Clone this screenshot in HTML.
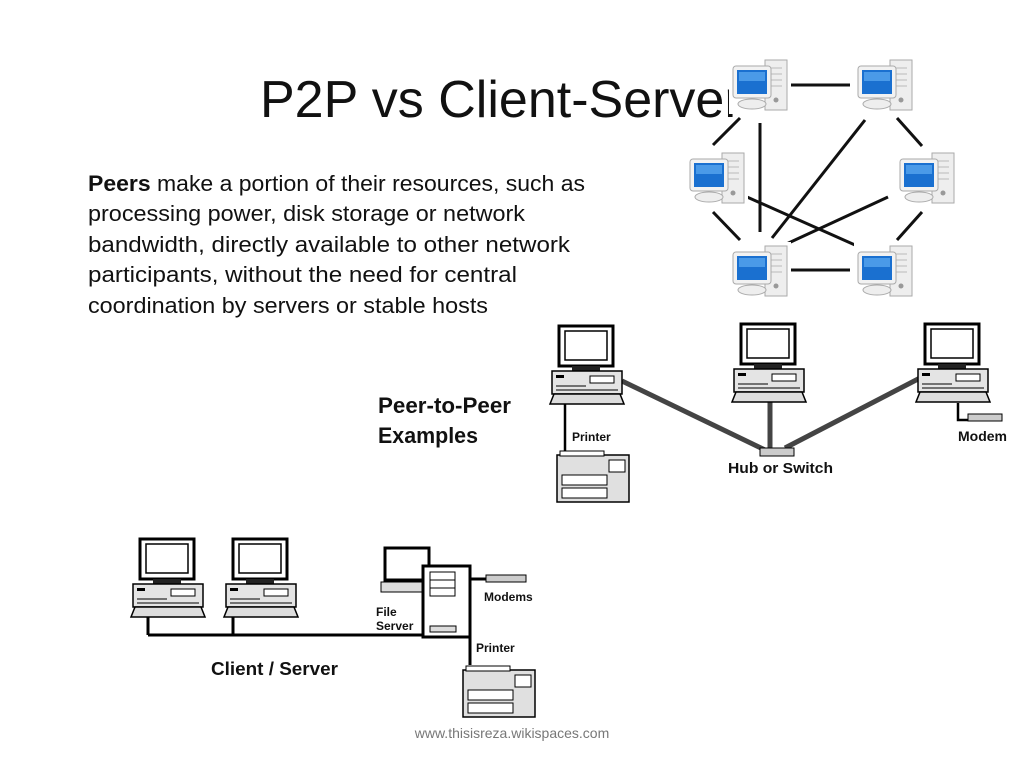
<!DOCTYPE html>
<html><head><meta charset="utf-8"><style>
body{margin:0;background:#fff;}
svg{display:block;}
</style></head><body>
<svg width="1024" height="768" viewBox="0 0 1024 768" xmlns="http://www.w3.org/2000/svg">
<defs>
<g id="pc">
 <rect x="9" y="0" width="54" height="40" fill="#fff" stroke="#000" stroke-width="3"/>
 <rect x="15" y="5" width="42" height="29" fill="#fff" stroke="#000" stroke-width="1.5"/>
 <rect x="22" y="40" width="28" height="5" fill="#222"/>
 <rect x="2" y="45" width="70" height="23" fill="#e4e4e4" stroke="#000" stroke-width="1.5"/>
 <rect x="40" y="50" width="24" height="7" fill="#fff" stroke="#000"/>
 <rect x="6" y="49" width="8" height="3" fill="#000"/>
 <line x1="6" y1="60" x2="36" y2="60" stroke="#000"/>
 <line x1="6" y1="64" x2="68" y2="64" stroke="#000"/>
 <polygon points="4,68 70,68 74,78 0,78" fill="#ddd" stroke="#000" stroke-width="1.5"/>
</g>
<g id="bpc">
 <rect x="-4" y="-6" width="62" height="58" fill="#fff"/>
 <rect x="32" y="-2" width="22" height="50" fill="#eee" stroke="#aaa"/>
 <line x1="37" y1="6" x2="49" y2="6" stroke="#bbb"/><line x1="37" y1="12" x2="49" y2="12" stroke="#bbb"/><line x1="37" y1="18" x2="49" y2="18" stroke="#bbb"/><line x1="37" y1="24" x2="49" y2="24" stroke="#bbb"/>
 <circle cx="43" cy="38" r="2.5" fill="#999"/>
 <rect x="0" y="4" width="38" height="32" rx="3" fill="#f2f2f2" stroke="#aaa"/>
 <rect x="4" y="8" width="30" height="24" fill="#1a70d0"/>
 <rect x="6" y="10" width="26" height="9" fill="#4a9ae8"/>
 <ellipse cx="19" cy="42" rx="14" ry="5" fill="#eee" stroke="#aaa"/>
</g>
<g id="printer">
 <rect x="0" y="0" width="72" height="47" fill="#e0e0e0" stroke="#000" stroke-width="1.5"/>
 <rect x="3" y="-4" width="44" height="5" fill="#fff" stroke="#000"/>
 <rect x="52" y="5" width="16" height="12" fill="#fff" stroke="#000"/>
 <rect x="5" y="20" width="45" height="10" fill="#fff" stroke="#000"/>
 <rect x="5" y="33" width="45" height="10" fill="#fff" stroke="#000"/>
</g>
</defs>

<text x="260" y="117" font-family="Liberation Sans, sans-serif" font-size="52" fill="#111">P2P vs Client-Server</text>

<g font-family="Liberation Sans, sans-serif" font-size="22" fill="#111">
<text x="88" y="191" textLength="497" lengthAdjust="spacingAndGlyphs"><tspan font-weight="bold">Peers</tspan> make a portion of their resources, such as</text>
<text x="88" y="221" textLength="437" lengthAdjust="spacingAndGlyphs">processing power, disk storage or network</text>
<text x="88" y="252" textLength="482" lengthAdjust="spacingAndGlyphs">bandwidth, directly available to other network</text>
<text x="88" y="282" textLength="429" lengthAdjust="spacingAndGlyphs">participants, without the need for central</text>
<text x="88" y="313" textLength="400" lengthAdjust="spacingAndGlyphs">coordination by servers or stable hosts</text>
<text x="378" y="413" font-weight="bold" textLength="133" lengthAdjust="spacingAndGlyphs">Peer-to-Peer</text>
<text x="378" y="443" font-weight="bold" textLength="100" lengthAdjust="spacingAndGlyphs">Examples</text>
</g>

<!-- top P2P mesh -->
<g stroke="#111" stroke-width="3">
<line x1="790" y1="85" x2="850" y2="85"/>
<line x1="760" y1="123" x2="760" y2="232"/>
<line x1="740" y1="118" x2="713" y2="145"/>
<line x1="865" y1="120" x2="772" y2="238"/>
<line x1="897" y1="118" x2="922" y2="146"/>
<line x1="713" y1="212" x2="740" y2="240"/>
<line x1="747" y1="197" x2="855" y2="245"/>
<line x1="888" y1="197" x2="782" y2="246"/>
<line x1="922" y1="212" x2="897" y2="240"/>
<line x1="790" y1="270" x2="850" y2="270"/>
</g>
<use href="#bpc" x="733" y="62"/>
<use href="#bpc" x="858" y="62"/>
<use href="#bpc" x="690" y="155"/>
<use href="#bpc" x="900" y="155"/>
<use href="#bpc" x="733" y="248"/>
<use href="#bpc" x="858" y="248"/>

<!-- middle P2P -->
<g stroke="#444" stroke-width="5">
<line x1="622" y1="381" x2="765" y2="450"/>
<line x1="920" y1="378" x2="785" y2="448"/>
<line x1="770" y1="400" x2="770" y2="448"/>
</g>
<g stroke="#000" stroke-width="2.5" fill="none">
<line x1="565" y1="403" x2="565" y2="455"/>
<polyline points="958,403 958,420 970,420"/>
</g>
<rect x="760" y="448" width="34" height="8" fill="#ccc" stroke="#000"/>
<rect x="968" y="414" width="34" height="7" fill="#ccc" stroke="#000"/>
<use href="#pc" x="550" y="326"/>
<use href="#pc" x="732" y="324"/>
<use href="#pc" x="916" y="324"/>
<use href="#printer" x="557" y="455"/>
<g font-family="Liberation Sans, sans-serif" font-weight="bold" fill="#111">
<text x="572" y="441" font-size="12">Printer</text>
<text x="728" y="473" font-size="15" textLength="105" lengthAdjust="spacingAndGlyphs">Hub or Switch</text>
<text x="958" y="441" font-size="14">Modem</text>
</g>

<!-- bottom client/server -->
<g stroke="#000" stroke-width="3" fill="none">
<line x1="148" y1="614" x2="148" y2="635"/>
<line x1="233" y1="614" x2="233" y2="635"/>
<line x1="148" y1="635" x2="423" y2="635"/>
<line x1="470" y1="637" x2="470" y2="665"/>
<line x1="470" y1="579" x2="486" y2="579"/>
</g>
<use href="#pc" x="131" y="539"/>
<use href="#pc" x="224" y="539"/>
<rect x="385" y="548" width="44" height="32" fill="#fff" stroke="#000" stroke-width="3"/>
<rect x="381" y="582" width="45" height="10" fill="#ddd" stroke="#000"/>
<rect x="423" y="566" width="47" height="71" fill="#fff" stroke="#000" stroke-width="3"/>
<rect x="430" y="572" width="25" height="8" fill="#fff" stroke="#000"/>
<rect x="430" y="580" width="25" height="8" fill="#fff" stroke="#000"/>
<rect x="430" y="588" width="25" height="8" fill="#fff" stroke="#000"/>
<rect x="430" y="626" width="26" height="6" fill="#ddd" stroke="#000"/>
<rect x="486" y="575" width="40" height="7" fill="#ccc" stroke="#000"/>
<use href="#printer" x="463" y="670"/>
<g font-family="Liberation Sans, sans-serif" font-weight="bold" fill="#111">
<text x="376" y="616" font-size="12">File</text>
<text x="376" y="630" font-size="12">Server</text>
<text x="484" y="601" font-size="12">Modems</text>
<text x="476" y="652" font-size="12">Printer</text>
<text x="211" y="675" font-size="18" textLength="127" lengthAdjust="spacingAndGlyphs">Client / Server</text>
</g>

<text x="512" y="738" text-anchor="middle" font-family="Liberation Sans, sans-serif" font-size="14" fill="#777">www.thisisreza.wikispaces.com</text>
</svg>
</body></html>
